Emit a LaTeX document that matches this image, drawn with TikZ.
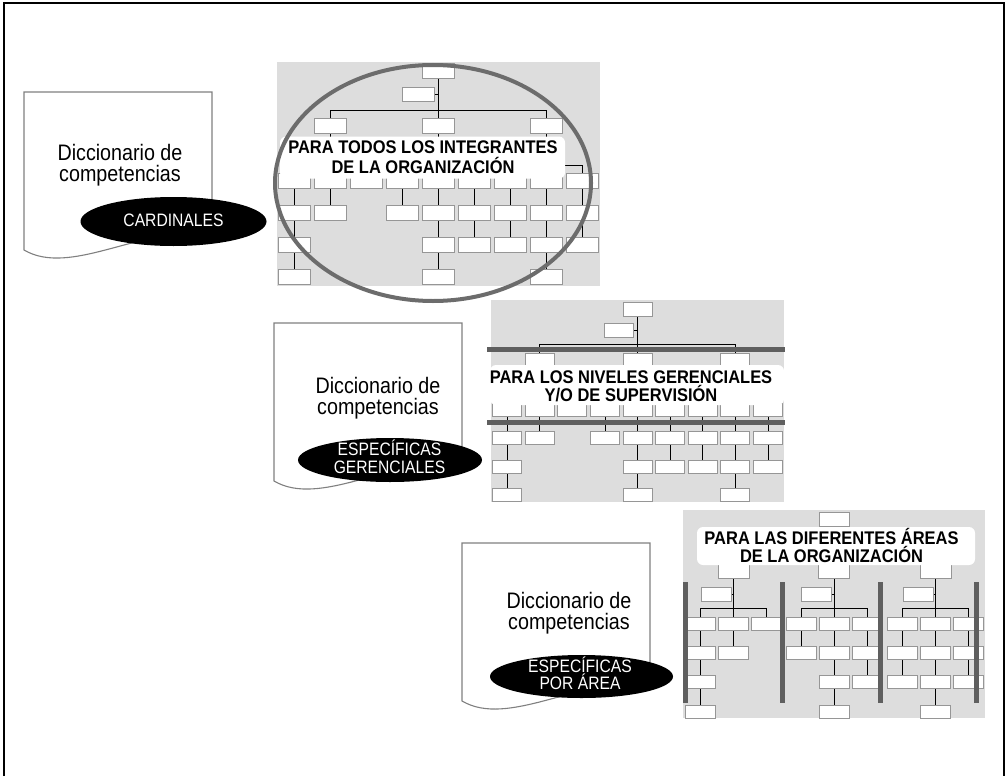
\documentclass[tikz,border=0pt]{standalone}
\usepackage{fontspec}
\setmainfont{Liberation Sans}
\newfontfamily\docfont[FakeStretch=0.88]{Liberation Sans}
\newfontfamily\ellfont[FakeStretch=0.87]{Liberation Sans}
\newfontfamily\labfont[FakeStretch=0.9]{Liberation Sans}
\usetikzlibrary{shapes.geometric}
\definecolor{bggray}{RGB}{221,221,221}
\definecolor{boxgray}{RGB}{150,150,150}
\definecolor{docgray}{RGB}{128,128,128}
\definecolor{bargray}{RGB}{95,95,95}
\definecolor{ringgray}{RGB}{108,108,108}
\newcommand\chbox[4]{\draw[orgbox] ({#1-#3},#2) rectangle ({#1+#3},{#2+#4});}
\newcommand\docshape[2]{%
  \begin{scope}[shift={(#1,#2)}]
    \draw[docst] (0,0) -- (188,0) -- (188,140) .. controls (116,135) and (46,185) .. (0,158) -- cycle;
  \end{scope}}
\tikzset{
  orgbox/.style={draw=boxgray, fill=white, line width=0.9pt},
  conn/.style={draw=black, line width=0.7pt},
  docst/.style={draw=docgray, fill=white, line width=1.1pt},
  blkell/.style={ellipse, fill=black, draw=none, inner sep=0pt},
  elltext/.style={text=white, align=center, inner sep=0pt, font=\ellfont\fontsize{18}{17.6}\selectfont},
  doctext/.style={text=black, align=center, inner sep=0pt, font=\docfont\fontsize{22.4}{21}\selectfont},
  labbox/.style={rectangle, fill=white, draw=none, rounded corners=6pt, inner sep=0pt},
  labtext/.style={text=black, align=center, inner sep=0pt, font=\labfont\bfseries\fontsize{18.3}{18.4}\selectfont},
  barst/.style={draw=bargray, line width=5pt},
  ringst/.style={draw=ringgray, line width=4pt},
  framest/.style={draw=black, line width=1.5pt}
}
\begin{document}
\begin{tikzpicture}[x=1pt,y=-1pt]
\useasboundingbox (0,0) rectangle (1006,776);
\draw[framest] (4,776) -- (4,3) -- (1004,3) -- (1004,776);

% ---------------- chart 1
\fill[bggray] (277,62) rectangle (600,286);
\draw[conn] (438,78) -- (438,110);
\draw[conn] (434,94) -- (438,94);
\draw[conn] (330,110) -- (546,110);
\foreach \x in {330,438,546} {\draw[conn] (\x,110) -- (\x,165);}
\draw[conn] (294,165) -- (582,165);
\foreach \x in {294,330,...,582} {\draw[conn] (\x,165) -- (\x,173);}
\foreach \x in {294,330,402,438,474,510,546,582} {\draw[conn] (\x,188) -- (\x,205);}
\foreach \x in {294,438,474,510,546,582} {\draw[conn] (\x,220) -- (\x,237);}
\foreach \x in {294,438,546} {\draw[conn] (\x,252) -- (\x,269);}
\chbox{438}{63}{16}{15}
\draw[orgbox] (402,87) rectangle (434,101);
\foreach \x in {330,438,546} {\chbox{\x}{118}{16}{15}}
\foreach \x in {294,330,...,582} {\chbox{\x}{173}{16}{15}}
\foreach \x in {294,330,402,438,474,510,546,582} {\chbox{\x}{205}{16}{15}}
\foreach \x in {294,438,474,510,546,582} {\chbox{\x}{237}{16}{15}}
\foreach \x in {294,438,546} {\chbox{\x}{269}{16}{15}}
\node[labbox, minimum width=285pt, minimum height=42pt] (lab1) at (422.5,157.5) {};
\node[labtext, font=\labfont\bfseries\fontsize{18.3}{20}\selectfont] (lab1t) at (423,157.5) {PARA TODOS LOS INTEGRANTES\\DE LA ORGANIZACIÓN};
\draw[ringst] (433,183) ellipse [x radius=158, y radius=118];

% doc 1
\docshape{24}{92}
\node[doctext] (d1t) at (120,164.9) {Diccionario de\\competencias};
\node[blkell, minimum width=186pt, minimum height=49pt] (e1) at (173.5,221.5) {};
\node[elltext] (e1t) at (173.5,220.5) {CARDINALES};

% ---------------- chart 2
\def\colsB{507,539.6,572.3,604.9,637.5,670.1,702.8,735.4,768}
\fill[bggray] (491,300) rectangle (784,502);
\draw[conn] (637.5,316) -- (637.5,344);
\draw[conn] (633,330) -- (637.5,330);
\draw[conn] (539.6,344) -- (735.4,344);
\foreach \x in {539.6,637.5,735.4} {\draw[conn] (\x,344) -- (\x,397);}
\draw[conn] (507,397) -- (768,397);
\foreach \x in \colsB {\draw[conn] (\x,397) -- (\x,403);}
\foreach \x in {507,539.6,604.9,637.5,670.1,702.8,735.4,768} {\draw[conn] (\x,416) -- (\x,431.5);}
\foreach \x in {507,637.5,670.1,702.8,735.4,768} {\draw[conn] (\x,444) -- (\x,460);}
\foreach \x in {507,637.5,735.4} {\draw[conn] (\x,473) -- (\x,488.5);}
\chbox{637.5}{302}{14.5}{14}
\draw[orgbox] (604,323) rectangle (633,337);
\foreach \x in {539.6,637.5,735.4} {\chbox{\x}{353}{14.5}{14}}
\foreach \x in \colsB {\chbox{\x}{403}{14.5}{13.5}}
\foreach \x in {507,539.6,604.9,637.5,670.1,702.8,735.4,768} {\chbox{\x}{431.5}{14.5}{13}}
\foreach \x in {507,637.5,670.1,702.8,735.4,768} {\chbox{\x}{460}{14.5}{13}}
\foreach \x in {507,637.5,735.4} {\chbox{\x}{488.5}{14.5}{13}}
\node[labbox, minimum width=294pt, minimum height=40pt] (lab2) at (637,385) {};
\node[labtext] (lab2t) at (631,386) {PARA LOS NIVELES GERENCIALES\\Y/O DE SUPERVISIÓN};
\draw[barst] (487,349) -- (785,349);
\draw[barst] (487,422.5) -- (785,422.5);

% doc 2
\docshape{274}{323}
\node[doctext] (d2t) at (378,398.2) {Diccionario de\\competencias};
\node[blkell, minimum width=184pt, minimum height=44pt] (e2) at (390,460) {};
\node[elltext] (e2t) at (389.5,457) {ESPECÍFICAS\\GERENCIALES};

% ---------------- chart 3
\fill[bggray] (683,510) rectangle (985,718);
\chbox{834}{512}{15}{14}
\foreach \b in {733.5,834,935.5} {
  \draw[conn] (\b,578) -- (\b,608);
  \draw[conn] ({\b-2.5},594) -- (\b,594);
  \draw[conn] ({\b-33},608) -- ({\b+33},608);
  \foreach \d in {-33,0,33} {\draw[conn] ({\b+\d},608) -- ({\b+\d},617);}
}
% sub 1
\draw[conn] (700.5,630) -- (700.5,705);
\draw[conn] (733.5,630) -- (733.5,646);
% sub 2
\draw[conn] (801,630) -- (801,646);
\draw[conn] (834,630) -- (834,705);
\draw[conn] (867,630) -- (867,675.5);
% sub 3
\draw[conn] (902.5,630) -- (902.5,675.5);
\draw[conn] (935.5,630) -- (935.5,705);
\draw[conn] (968.5,630) -- (968.5,675.5);
\foreach \b in {733.5,834,935.5} {
  \chbox{\b}{563}{15.5}{15}
  \draw[orgbox] ({\b-32.5},587) rectangle ({\b-2.5},601);
  \foreach \d in {-33,0,33} {\chbox{\b+\d}{617}{15}{13}}
}
\chbox{700.5}{646}{15}{13}
\chbox{733.5}{646}{15}{13}
\chbox{700.5}{675.5}{15}{13}
\chbox{700.5}{705}{15}{13}
\foreach \x in {801,834,867} {\chbox{\x}{646}{15}{13}}
\foreach \x in {834,867} {\chbox{\x}{675.5}{15}{13}}
\chbox{834}{705}{15}{13}
\foreach \x in {902.5,935.5,968.5} {\chbox{\x}{646}{15}{13}}
\foreach \x in {902.5,935.5,968.5} {\chbox{\x}{675.5}{15}{13}}
\chbox{935.5}{705}{15}{13}
\node[labbox, minimum width=278pt, minimum height=38pt] (lab3) at (836,546) {};
\node[labtext] (lab3t) at (831.5,545.5) {PARA LAS DIFERENTES ÁREAS\\DE LA ORGANIZACIÓN};
\foreach \x in {685.5,782.5,880.5,976.5} {\draw[barst] (\x,582) -- (\x,703);}

% doc 3
\docshape{462}{543}
\node[doctext] (d3t) at (569,613.2) {Diccionario de\\competencias};
\node[blkell, minimum width=183pt, minimum height=43pt] (e3) at (581.5,676.5) {};
\node[elltext] (e3t) at (580,673.2) {ESPECÍFICAS\\POR ÁREA};
\end{tikzpicture}
\end{document}
